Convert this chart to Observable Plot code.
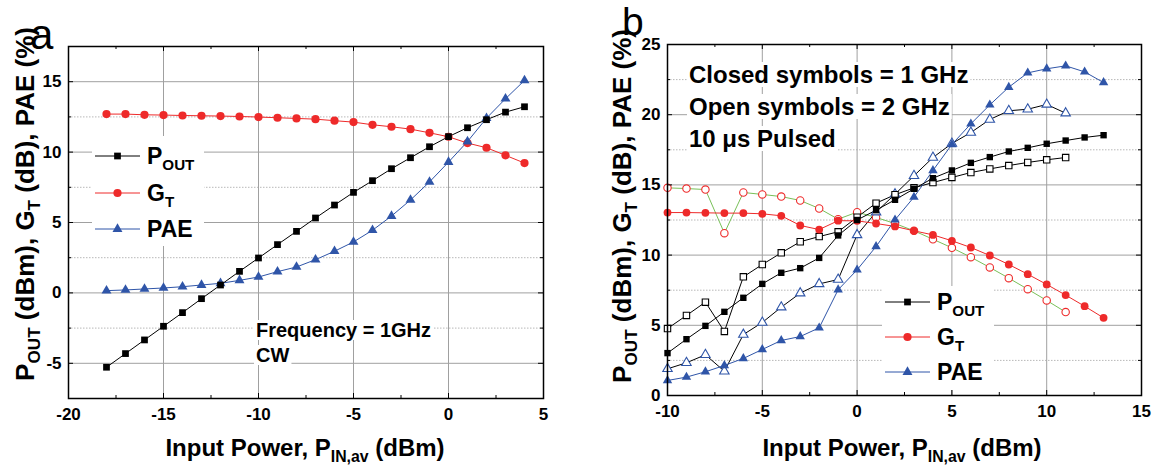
<!DOCTYPE html>
<html><head><meta charset="utf-8">
<script src="https://cdn.jsdelivr.net/npm/d3@7"></script>
<script src="https://cdn.jsdelivr.net/npm/@observablehq/plot@0.6"></script>
<style>
body{margin:0;background:#fff;}
#wrap{position:relative;width:1158px;height:467px;overflow:hidden;background:#fff;}
#wrap svg{position:absolute;top:0;}
</style>
</head><body><div id="wrap"></div>
<script>
// ---------- Panel a data (CW, 1 GHz) ----------
const xA = [-18,-17,-16,-15,-14,-13,-12,-11,-10,-9,-8,-7,-6,-5,-4,-3,-2,-1,0,1,2,3,4];
const aPout = [-5.28,-4.31,-3.34,-2.37,-1.40,-0.41,0.56,1.53,2.48,3.43,4.37,5.32,6.24,7.14,7.97,8.82,9.60,10.38,11.10,11.73,12.30,12.84,13.22];
const aGt   = [12.70,12.70,12.65,12.63,12.60,12.58,12.56,12.53,12.49,12.44,12.39,12.34,12.23,12.13,11.94,11.80,11.63,11.37,11.09,10.64,10.31,9.77,9.22];
const aPae  = [0.16,0.21,0.28,0.35,0.44,0.56,0.68,0.89,1.13,1.51,1.84,2.36,2.96,3.62,4.45,5.46,6.60,7.88,9.29,10.75,12.41,13.79,15.09];

// ---------- Panel b data (pulsed) ----------
const xB1 = [-10,-9,-8,-7,-6,-5,-4,-3,-2,-1,0,1,2,3,4,5,6,7,8,9,10,11,12,13]; // closed, 1 GHz
const xB2 = [-10,-9,-8,-7,-6,-5,-4,-3,-2,-1,0,1,2,3,4,5,6,7,8,9,10,11];       // open, 2 GHz
const bPout1 = [3.02,4.01,4.96,5.96,6.96,7.95,8.74,9.07,9.80,11.40,12.50,13.20,13.94,14.72,15.48,16.03,16.57,16.98,17.38,17.64,17.93,18.16,18.38,18.54];
const bGt1   = [13.03,13.03,13.01,12.99,12.99,12.94,12.80,12.11,11.82,12.45,12.44,12.25,12.04,11.73,11.44,11.02,10.54,9.97,9.33,8.64,7.91,7.15,6.36,5.53];
const bPae1  = [1.07,1.31,1.69,2.14,2.64,3.28,3.92,4.20,4.82,7.53,8.95,10.61,12.51,14.13,16.03,17.88,19.35,20.70,21.96,22.98,23.27,23.48,23.05,22.29];
const bPout2 = [4.77,5.70,6.65,4.56,8.45,9.33,10.16,10.95,11.32,11.66,12.70,13.70,14.30,14.79,15.17,15.53,15.88,16.14,16.38,16.60,16.79,16.95];
const bGt2   = [14.79,14.74,14.67,11.56,14.46,14.32,14.17,13.89,13.32,12.56,13.06,12.68,12.25,11.73,11.13,10.52,9.85,9.12,8.36,7.57,6.77,5.94];
const bPae2  = [1.90,2.33,2.90,1.73,4.34,5.20,6.29,7.29,7.95,8.26,11.44,13.06,14.34,15.65,16.95,17.95,18.73,19.66,20.28,20.39,20.73,20.11];

// ---------- tick values ----------
const aXLabels = [-20,-15,-10,-5,0,5];
const aYLabels = [-5,0,5,10,15];
const aXMajor = [-15,-10,-5,0];
const aXMinor = [-17.5,-12.5,-7.5,-2.5,2.5];
const aYMajor = [-5,0,5,10,15];
const aYMinor = [-2.5,2.5,7.5,12.5];
const bXLabels = [-10,-5,0,5,10,15];
const bYLabels = [0,5,10,15,20,25];
const bXMajor = [-5,0,5,10];
const bXMinor = [-7.5,-2.5,2.5,7.5,12.5];
const bYMajor = [5,10,15,20];
const bYMinor = [2.5,7.5,12.5,17.5,22.5];

const FONT = "'Liberation Sans', Arial, Helvetica, sans-serif";
const BLACK = "#000000", RED = "#ee2a2a", BLUE = "#2f55a8", GREEN = "#78c058";

function rows(xs, ys){ return xs.map((x,i)=>({x, y: ys[i]})); }

function makePanel(cfg){
  const W = 579, H = 467;
  const iw = W - cfg.ml - cfg.mr, ih = H - cfg.mt - cfg.mb;
  const marks = [
    Plot.gridY(cfg.yMinor, {stroke:"#b8b8b8", strokeOpacity:1, strokeDasharray:"1.5,1.5", strokeWidth:1}),
    Plot.gridY(cfg.yMajor, {stroke:"#a0a0a0", strokeOpacity:1, strokeWidth:1}),
    Plot.gridX(cfg.xMajor, {stroke:"#a0a0a0", strokeOpacity:1, strokeWidth:1})
  ];
  for (const s of cfg.series) marks.push(Plot.line(rows(s.x, s.y), {x:"x", y:"y", stroke:s.line, strokeWidth:1}));
  for (const s of cfg.series) marks.push(Plot.dot(rows(s.x, s.y), {
    x:"x", y:"y", symbol:s.symbol, r:s.r,
    fill: s.open ? "white" : s.color,
    stroke: s.open ? s.color : "none", strokeWidth:1.1
  }));
  const TL = 5, TM = 3;
  const xMaj = cfg.xMajor, xMin = cfg.xMinor, yMaj = cfg.yMajor, yMin = cfg.yMinor;
  marks.push(
    Plot.tickX(xMaj, {x:d=>d, insetTop: ih - TL, stroke:"black"}),
    Plot.tickX(xMin, {x:d=>d, insetTop: ih - TM, stroke:"black"}),
    Plot.tickX(xMaj, {x:d=>d, insetBottom: ih - TL, stroke:"black"}),
    Plot.tickX(xMin, {x:d=>d, insetBottom: ih - TM, stroke:"black"}),
    Plot.tickY(yMaj, {y:d=>d, insetRight: iw - TL, stroke:"black"}),
    Plot.tickY(yMin, {y:d=>d, insetRight: iw - TM, stroke:"black"}),
    Plot.tickY(yMaj, {y:d=>d, insetLeft: iw - TL, stroke:"black"}),
    Plot.tickY(yMin, {y:d=>d, insetLeft: iw - TM, stroke:"black"}),
    Plot.frame({stroke:"black", strokeWidth:1.5}),
    Plot.axisX({ticks: cfg.xLabels, tickSize:0, tickPadding:9, label:null, tickFormat:d=>String(d), fontSize:17, fontWeight:"bold", fill:"black"}),
    Plot.axisY({ticks: cfg.yLabels, tickSize:0, tickPadding:7, label:null, tickFormat:d=>String(d), fontSize:17, fontWeight:"bold", fill:"black"})
  );
  const svg = Plot.plot({
    width: W, height: H,
    marginLeft: cfg.ml, marginRight: cfg.mr, marginTop: cfg.mt, marginBottom: cfg.mb,
    x: {domain: cfg.xDomain},
    y: {domain: cfg.yDomain},
    style: {fontFamily: FONT, background: "transparent", overflow: "visible"},
    marks
  });
  svg.style.left = cfg.left + "px";
  document.getElementById("wrap").appendChild(svg);
  return svg;
}

// rich text with subscripts: parts are strings or {sub:"..."}
function richText(g, x, y, parts, size, opt = {}){
  const t = g.append("text").attr("x", x).attr("y", y)
    .attr("font-family", FONT).attr("font-size", size)
    .attr("font-weight", opt.weight || "bold").attr("fill", "black")
    .attr("text-anchor", opt.anchor || "start");
  if (opt.rotate) t.attr("transform", `rotate(-90 ${x} ${y})`);
  const shift = size * 0.24;
  let down = false;
  for (const p of parts){
    if (typeof p === "string"){
      const ts = t.append("tspan").text(p);
      if (down){ ts.attr("dy", -shift); down = false; }
    } else {
      t.append("tspan").attr("font-size", size * 0.66).attr("dy", shift).text(p.sub);
      down = true;
    }
  }
  return t;
}

function boxedText(g, x, y, parts, size, pad){
  const gg = g.append("g");
  const rect = gg.append("rect").attr("fill", "white");
  const t = richText(gg, x, y, parts, size);
  const b = t.node().getBBox();
  rect.attr("x", b.x - pad).attr("y", b.y + 1).attr("width", b.width + 2*pad).attr("height", b.height - 2);
}

function legend(g, x0, rowsY, items, box, size){
  g.append("rect").attr("x", box[0]).attr("y", box[1]).attr("width", box[2]).attr("height", box[3]).attr("fill", "white");
  items.forEach((it, i) => {
    const y = rowsY[i];
    g.append("line").attr("x1", x0).attr("x2", x0 + 45).attr("y1", y).attr("y2", y).attr("stroke", it.color).attr("stroke-width", 1);
    g.append("path").attr("transform", `translate(${x0 + 22.5},${y})`)
      .attr("d", d3.symbol(it.symbol, Math.PI * it.r * it.r)()).attr("fill", it.color);
    richText(g, x0 + 52, y + 8, it.label, size);
  });
}

const seriesA = [
  {x:xA, y:aGt,   color:RED,   line:RED,   symbol:"circle",   r:4.1},
  {x:xA, y:aPae,  color:BLUE,  line:BLUE,  symbol:"triangle", r:3.7},
  {x:xA, y:aPout, color:BLACK, line:BLACK, symbol:"square",   r:3.8}
];
const svgA = makePanel({
  left:0, ml:68, mr:36, mt:46, mb:69,
  xDomain:[-20,5], yDomain:[-7.5,17.5],
  xLabels:aXLabels, yLabels:aYLabels, xMajor:aXMajor, xMinor:aXMinor, yMajor:aYMajor, yMinor:aYMinor,
  series: seriesA
});

const seriesB = [
  {x:xB2, y:bGt2,   color:RED,   line:GREEN, symbol:"circle",   r:3.7, open:true},
  {x:xB2, y:bPae2,  color:BLUE,  line:BLACK, symbol:"triangle", r:3.5, open:true},
  {x:xB2, y:bPout2, color:BLACK, line:BLACK, symbol:"square",   r:3.6, open:true},
  {x:xB1, y:bGt1,   color:RED,   line:RED,   symbol:"circle",   r:3.9},
  {x:xB1, y:bPae1,  color:BLUE,  line:BLUE,  symbol:"triangle", r:3.5},
  {x:xB1, y:bPout1, color:BLACK, line:BLACK, symbol:"square",   r:3.6}
];
const svgB = makePanel({
  left:579, ml:88, mr:17, mt:44, mb:72,
  xDomain:[-10,15], yDomain:[0,25],
  xLabels:bXLabels, yLabels:bYLabels, xMajor:bXMajor, xMinor:bXMinor, yMajor:bYMajor, yMinor:bYMinor,
  series: seriesB
});

const legendItems = [
  {label:["P", {sub:"OUT"}], color:BLACK, symbol:d3.symbolSquare,   r:3.8},
  {label:["G", {sub:"T"}],   color:RED,   symbol:d3.symbolCircle,   r:4.1},
  {label:["PAE"],            color:BLUE,  symbol:d3.symbolTriangle, r:3.7}
];
const yTitle = ["P", {sub:"OUT"}, " (dBm), G", {sub:"T"}, " (dB), PAE (%)"];
const xTitle = ["Input Power, P", {sub:"IN,av"}, " (dBm)"];

// ----- overlays panel a -----
const gA = d3.select(svgA).append("g");
legend(gA, 95, [156, 193, 229], legendItems, [92, 136, 112, 110], 23);
boxedText(gA, 256, 337, ["Frequency = 1GHz"], 20, 2);
boxedText(gA, 256, 362, ["CW"], 20, 2);
richText(gA, 34, 204, yTitle, 26, {anchor:"middle", rotate:true});
richText(gA, 305, 456, xTitle, 24, {anchor:"middle"});
richText(gA, 30, 49, ["a"], 42, {weight:"normal"});

// ----- overlays panel b -----
const gB = d3.select(svgB).append("g");
legend(gB, 885 - 579, [302, 337, 372], legendItems, [882 - 579, 286, 112, 104], 23);
boxedText(gB, 689 - 579, 83, ["Closed symbols = 1 GHz"], 24, 2);
boxedText(gB, 689 - 579, 115, ["Open symbols = 2 GHz"], 24, 2);
boxedText(gB, 689 - 579, 147, ["10 μs Pulsed"], 24, 2);
richText(gB, 631 - 579, 206, yTitle, 26, {anchor:"middle", rotate:true});
richText(gB, 902 - 579, 456, xTitle, 24, {anchor:"middle"});
richText(gB, 622 - 579, 35, ["b"], 39, {weight:"normal"});
</script>
</body></html>
